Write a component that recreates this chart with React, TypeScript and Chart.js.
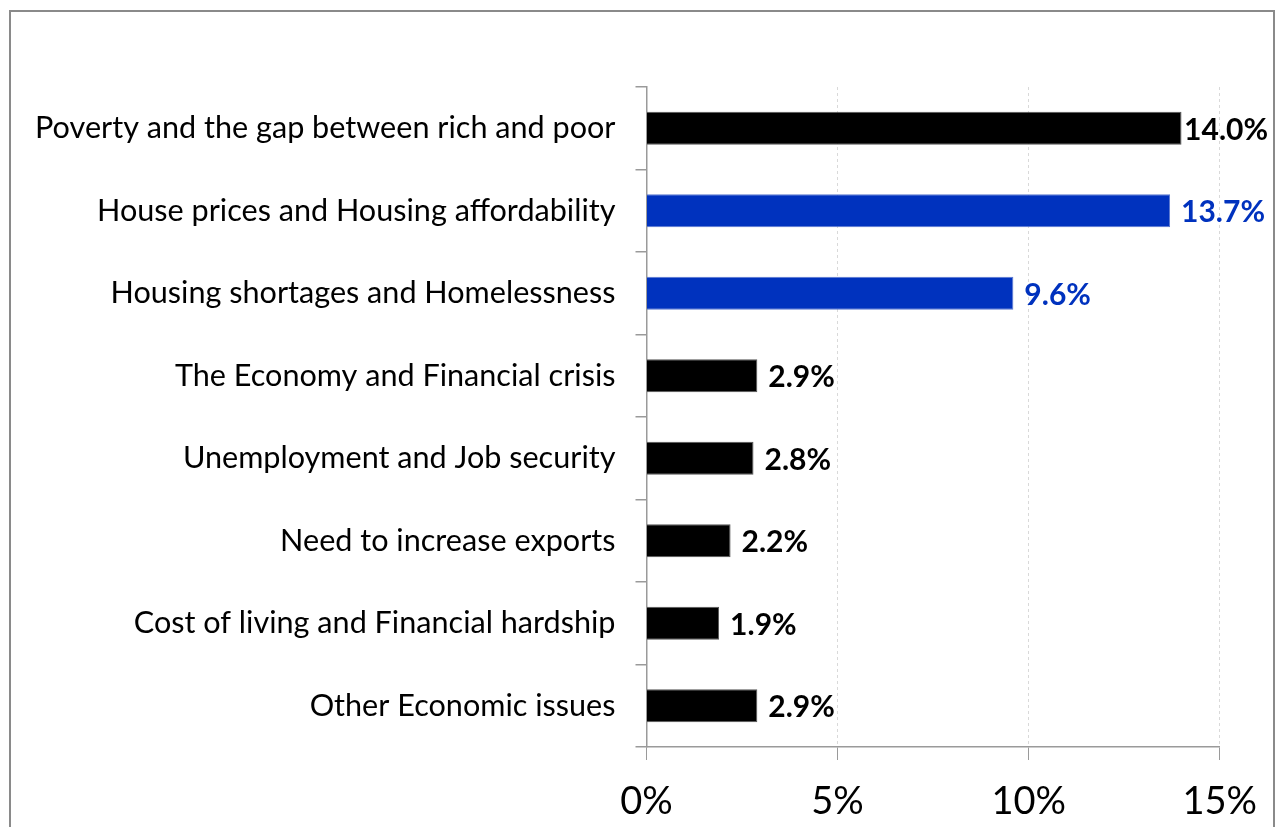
import React, { useEffect, useRef } from "react";
import { Chart, registerables } from "chart.js";

Chart.register(...registerables);

const categories = [
  "Poverty and the gap between rich and poor",
  "House prices and Housing affordability",
  "Housing shortages and Homelessness",
  "The Economy and Financial crisis",
  "Unemployment and Job security",
  "Need to increase exports",
  "Cost of living and Financial hardship",
  "Other Economic issues",
];
const values = [14.0, 13.7, 9.6, 2.9, 2.8, 2.2, 1.9, 2.9];
const highlighted = [false, true, true, false, false, false, false, false];
const xTicks = [0, 5, 10, 15];

const BLACK = "#000000";
const BLUE = "#0032BE";
const FONT = "Lato, 'Liberation Sans', sans-serif";

export default function App() {
  const ref = useRef<HTMLCanvasElement | null>(null);

  useEffect(() => {
    if (!ref.current) return;
    const labelPlugin = {
      id: "barLabels",
      afterDatasetsDraw(chart: any) {
        const ctx = chart.ctx;
        const meta = chart.getDatasetMeta(0);
        ctx.save();
        ctx.font = `bold 30px ${FONT}`;
        ctx.textBaseline = "middle";
        ctx.textAlign = "left";
        meta.data.forEach((bar: any, i: number) => {
          const text = values[i].toFixed(1) + "%";
          const w = ctx.measureText(text).width;
          const x = Math.min(bar.x + 11, 1268 - w);
          ctx.fillStyle = highlighted[i] ? BLUE : BLACK;
          ctx.fillText(text, x, bar.y + 2);
        });
        ctx.restore();
      },
    };

    const chart = new Chart(ref.current, {
      type: "bar",
      data: {
        labels: categories,
        datasets: [
          {
            data: values,
            backgroundColor: highlighted.map((h) => (h ? BLUE : BLACK)),
            borderColor: highlighted.map((h) => (h ? "#5a78d0" : "#555555")),
            borderWidth: { top: 1, bottom: 1, left: 0, right: 1 },
            barPercentage: 0.4,
            categoryPercentage: 1,
          },
        ],
      },
      options: {
        indexAxis: "y",
        animation: false,
        responsive: true,
        maintainAspectRatio: false,
        layout: { padding: { left: 0, right: 55, top: 87, bottom: 0 } },
        plugins: {
          legend: { display: false },
          tooltip: { enabled: false },
        },
        scales: {
          x: {
            min: 0,
            max: 15,
            afterBuildTicks: (scale: any) => {
              scale.ticks = xTicks.map((v) => ({ value: v }));
            },
            afterFit: (scale: any) => {
              scale.height = 80;
            },
            ticks: {
              callback: (v: any) => v + "%",
              font: { family: FONT, size: 38 },
              color: "#000000",
              padding: 19,
              maxRotation: 0,
            },
            grid: {
              color: (c: any) => (c.index === 0 ? "rgba(0,0,0,0)" : "#d9d9d9"),
              tickColor: "#9a9a9a",
              tickLength: 13,
              lineWidth: 1,
            },
            border: { color: "#9a9a9a", width: 1.5, dash: [3, 3] },
          },
          y: {
            afterFit: (scale: any) => {
              scale.width = 646.5;
            },
            ticks: {
              font: { family: FONT, size: 30.6 },
              color: "#000000",
              padding: 20,
            },
            grid: {
              offset: true,
              drawOnChartArea: false,
              tickColor: "#9a9a9a",
              tickLength: 11,
              lineWidth: 1.5,
            },
            border: { color: "#9a9a9a", width: 1.5 },
          },
        },
      },
      plugins: [labelPlugin],
    });
    return () => chart.destroy();
  }, []);

  return (
    <div style={{ position: "fixed", left: 0, top: 0, width: 1276, height: 827, overflow: "hidden", background: "#fff" }}>
      <div
        style={{
          position: "absolute",
          left: 9,
          top: 10,
          width: 1266,
          height: 900,
          border: "2px solid #8a8a8a",
          boxSizing: "border-box",
        }}
      />
      <div style={{ position: "absolute", left: 0, top: 0, width: 1276, height: 827 }}>
        <canvas ref={ref} />
      </div>
    </div>
  );
}
